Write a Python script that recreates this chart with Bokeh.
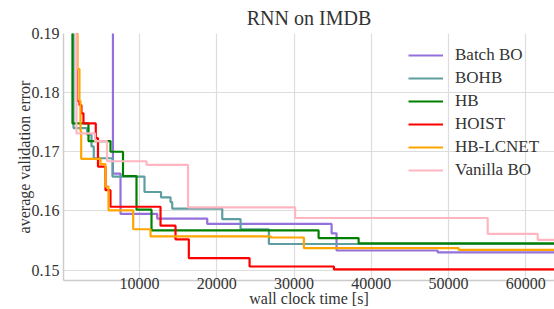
from bokeh.plotting import figure
from bokeh.models import FixedTicker, Legend, LegendItem, Range1d
from bokeh.embed import file_html
from bokeh.resources import INLINE

title = "RNN on IMDB"
x_label = "wall clock time [s]"
y_label = "average validation error"
x_ticks = [10000, 20000, 30000, 40000, 50000, 60000]
y_ticks = [0.15, 0.16, 0.17, 0.18, 0.19]

names = ["Batch BO", "BOHB", "HB", "HOIST", "HB-LCNET", "Vanilla BO"]
colors = ["#9370DB", "#5F9EA0", "#008000", "#FF0000", "#FFA500", "#FFB6C1"]

batch_bo_t = [6540, 6560, 7540, 12290, 18765, 34860, 35500, 48590, 64500]
batch_bo_v = [0.30, 0.1663, 0.1595, 0.1587, 0.1578, 0.1562, 0.1533, 0.1530, 0.1530]

bohb_t = [1386, 1450, 3225, 3781, 4079, 6501, 10645, 12782, 14012, 14232, 20707, 23077, 26742, 64500]
bohb_v = [0.30, 0.1740, 0.1729, 0.1709, 0.1689, 0.1658, 0.1632, 0.1623, 0.1615, 0.1604, 0.1586, 0.1569, 0.1544, 0.1544]

hb_t = [1282, 1321, 3393, 6242, 7861, 9609, 11551, 33178, 38357, 64500]
hb_v = [0.30, 0.1748, 0.1718, 0.1700, 0.1659, 0.1602, 0.1567, 0.1554, 0.1545, 0.1545]

hoist_t = [1709, 1904, 2227, 2486, 2745, 4338, 4623, 5594, 6242, 12717, 14659, 16382, 24242, 35159, 64500]
hoist_v = [0.30, 0.1786, 0.1779, 0.1765, 0.1748, 0.1723, 0.1675, 0.1635, 0.1607, 0.1575, 0.1552, 0.1520, 0.1506, 0.1501, 0.1501]

hb_lcnet_t = [1904, 1968, 2227, 2357, 2448, 4947, 5594, 5983, 9182, 11422, 26962, 31274, 51309, 64500]
hb_lcnet_v = [0.30, 0.1840, 0.1786, 0.1735, 0.1688, 0.1679, 0.1641, 0.1601, 0.1569, 0.1557, 0.1555, 0.1537, 0.1534, 0.1534]

vanilla_bo_t = [1709, 1839, 4235, 5789, 10904, 16278, 30135, 55064, 61539, 64500]
vanilla_bo_v = [0.30, 0.1731, 0.1718, 0.1684, 0.1678, 0.1606, 0.1588, 0.1561, 0.1551, 0.1551]

series = [
    (batch_bo_t, batch_bo_v),
    (bohb_t, bohb_v),
    (hb_t, hb_v),
    (hoist_t, hoist_v),
    (hb_lcnet_t, hb_lcnet_v),
    (vanilla_bo_t, vanilla_bo_v),
]

FONT = "Liberation Serif"
TEXT = "#333333"
X0, X1 = 160, 63710

p = figure(width=554, height=309, output_backend="svg", toolbar_location=None,
           x_range=Range1d(X0, X1), y_range=Range1d(0.14823, 0.19),
           min_border_left=63, min_border_right=0, min_border_top=33,
           min_border_bottom=20, title=title)
p.outline_line_color = None
p.background_fill_color = "white"

p.title.text_font = FONT
p.title.text_font_size = "20px"
p.title.text_font_style = "normal"
p.title.text_color = TEXT
p.title.align = "center"
p.title.standoff = 9

for ax in (p.xaxis[0], p.yaxis[0]):
    ax.axis_label_text_font = FONT
    ax.axis_label_text_font_size = "16px"
    ax.axis_label_text_font_style = "normal"
    ax.axis_label_text_color = TEXT
    ax.major_label_text_font = FONT
    ax.major_label_text_font_size = "16px"
    ax.major_label_text_color = TEXT
    ax.major_tick_line_color = None
    ax.minor_tick_line_color = None
    ax.major_tick_out = 0
    ax.major_tick_in = 0
    ax.axis_line_color = "#cccccc"
    ax.axis_line_width = 1.5

p.xaxis.axis_label = x_label
p.yaxis.axis_label = y_label
p.xaxis.ticker = FixedTicker(ticks=x_ticks)
p.yaxis.ticker = FixedTicker(ticks=y_ticks)
p.xaxis.major_label_standoff = -3
p.xaxis.axis_label_standoff = -2
p.yaxis.major_label_standoff = 4
p.yaxis.axis_label_standoff = -4

p.xgrid.grid_line_color = "#dddddd"
p.ygrid.grid_line_color = "#dddddd"
p.xgrid.grid_line_width = 1.2
p.ygrid.grid_line_width = 1.2

items = []
for name, color, (t, v) in zip(names, colors, series):
    r = p.step(t, v, mode="after", line_color=color, line_width=2.2)
    items.append(LegendItem(label=name, renderers=[r]))

legend = Legend(items=items, location=(345, 100), orientation="vertical",
                background_fill_alpha=0, border_line_alpha=0,
                label_text_font=FONT, label_text_font_size="17px", label_text_color=TEXT,
                glyph_width=35, glyph_height=20, label_height=20, label_standoff=12,
                spacing=3, padding=0, margin=0)
p.add_layout(legend, "center")

open("out.html", "w").write(file_html(p, INLINE))
